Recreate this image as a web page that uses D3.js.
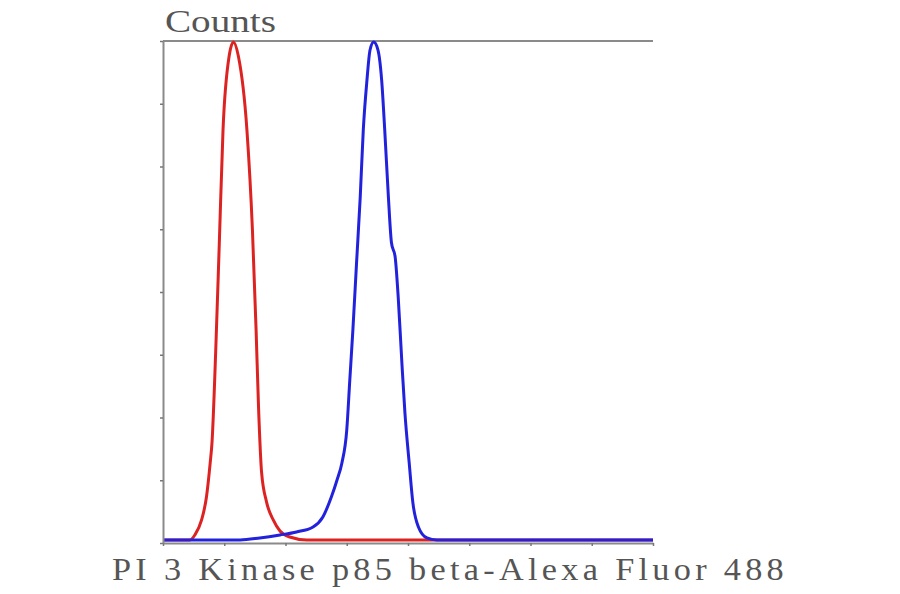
<!DOCTYPE html>
<html>
<head>
<meta charset="utf-8">
<script src="https://cdn.jsdelivr.net/npm/d3@7"></script>
<style>
  body { margin: 0; background: #fff; }
</style>
</head>
<body>
<div id="plot"></div>
<script>
// fluorescence channel (8 decades across the axis) and counts as % of peak
var isotypeX = [0, 0.36, 0.44, 0.52, 0.63, 0.71, 0.77, 0.80, 0.86, 0.92, 0.98, 1.08, 1.15, 1.23, 1.37, 1.46, 1.52, 1.56, 1.61, 1.69, 1.80, 1.91, 2.07, 2.35, 8];
var isotypeY = [0.6, 0.6, 0.6, 1.6, 4.6, 9.2, 15.9, 20.0, 38.0, 60.0, 82.3, 97.0, 99.8, 97.0, 82.3, 62.4, 42.4, 27.0, 14.0, 8.2, 4.6, 2.4, 1.2, 0.6, 0.6];

var sampleX = [0, 1.26, 1.58, 1.91, 2.18, 2.45, 2.61, 2.75, 2.84, 2.92, 3.00, 3.05, 3.10, 3.16, 3.22, 3.27, 3.33, 3.38, 3.44, 3.51, 3.57, 3.62, 3.68, 3.73, 3.79, 3.84, 3.90, 3.95, 4.02, 4.08, 4.17, 4.31, 4.47, 8];
var sampleY = [0.6, 0.6, 1.0, 1.6, 2.2, 3.2, 5.2, 9.2, 12.5, 15.9, 22.5, 32.5, 42.4, 55.8, 68.9, 82.3, 92.2, 98.2, 99.8, 98.2, 92.2, 82.3, 68.9, 59.8, 57.0, 49.0, 35.9, 25.9, 15.9, 8.0, 3.2, 1.0, 0.6, 0.6];

var xTicks = [0, 1, 2, 3, 4, 5, 6, 7, 8];
var yTicks = [0, 12.5, 25, 37.5, 50, 62.5, 75, 87.5, 100];

var yLabel = "Counts";
var xLabel = "PI 3 Kinase p85 beta-Alexa Fluor 488";

var svg = d3.select("div#plot")
            .append("svg")
            .attr("width", 900)
            .attr("height", 594);

var margin = {top: 41, right: 247, bottom: 51, left: 163};
var width = 900 - margin.left - margin.right;
var height = 594 - margin.top - margin.bottom;
var g = svg.append("g").attr("transform", `translate(${margin.left}, ${margin.top})`);

var xScale = d3.scaleLinear().domain([0, 8]).range([0, width]);
var yScale = d3.scaleLinear().domain([0, 100]).range([height, 0]);

var axisColor = "#8a8a8a";

// top frame line
g.append("line")
  .attr("x1", xScale(0))
  .attr("x2", xScale(8))
  .attr("y1", yScale(100))
  .attr("y2", yScale(100))
  .attr("stroke", axisColor)
  .attr("stroke-width", 2);

var line = d3.line()
  .x(d => xScale(d[0]))
  .y(d => yScale(d[1]))
  .curve(d3.curveMonotoneX);

g.append("path")
  .datum(d3.zip(isotypeX, isotypeY))
  .attr("fill", "none")
  .attr("stroke", "#dd2222")
  .attr("stroke-width", 3)
  .attr("stroke-linejoin", "round")
  .attr("d", line);

g.append("path")
  .datum(d3.zip(sampleX, sampleY))
  .attr("fill", "none")
  .attr("stroke", "#2222dd")
  .attr("stroke-width", 3)
  .attr("stroke-linejoin", "round")
  .attr("d", line);

var xAxis = g.append("g")
  .attr("transform", `translate(0, ${height})`)
  .call(d3.axisBottom(xScale).tickValues(xTicks).tickSize(3).tickSizeOuter(0).tickFormat(""));
var yAxis = g.append("g")
  .call(d3.axisLeft(yScale).tickValues(yTicks).tickSize(3).tickSizeOuter(0).tickFormat(""));

[xAxis, yAxis].forEach(function(a) {
  a.select(".domain").attr("stroke", axisColor).attr("stroke-width", 2);
  a.selectAll(".tick line").attr("stroke", "#777").attr("stroke-width", 1.5);
});

// axis titles
svg.append("text")
  .attr("x", 165)
  .attr("y", 32)
  .attr("textLength", 111)
  .attr("lengthAdjust", "spacingAndGlyphs")
  .style("font-family", "'Liberation Serif', serif")
  .style("font-size", "31px")
  .attr("fill", "#555")
  .text(yLabel);

svg.append("text")
  .attr("x", 112)
  .attr("y", 580)
  .attr("textLength", 676)
  .attr("lengthAdjust", "spacingAndGlyphs")
  .style("font-family", "'Liberation Serif', serif")
  .style("font-size", "32px")
  .style("letter-spacing", "4px")
  .attr("fill", "#555")
  .text(xLabel);
</script>
</body>
</html>
